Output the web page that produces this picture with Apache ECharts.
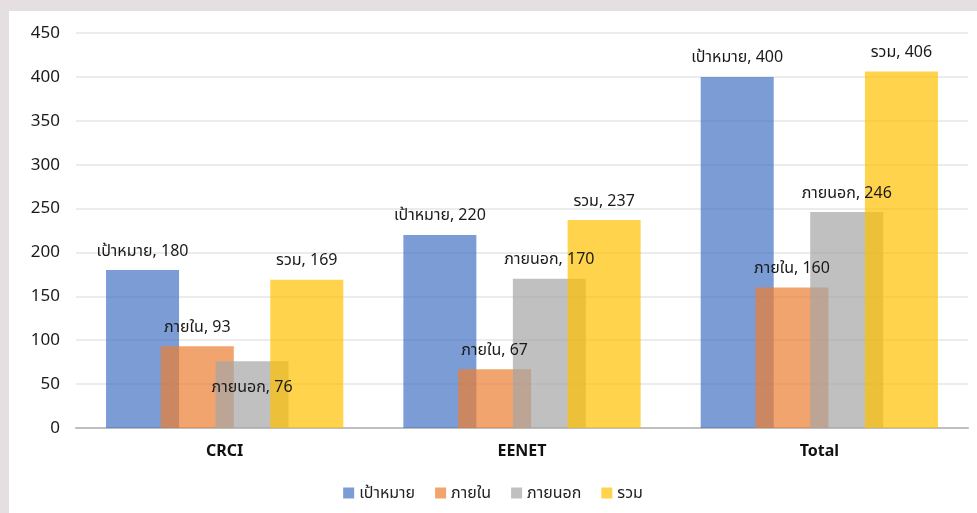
<!DOCTYPE html>
<html>
<head>
<meta charset="utf-8">
<script src="https://cdn.jsdelivr.net/npm/echarts@6/dist/echarts.min.js"></script>
<style>
  html, body { margin: 0; padding: 0; width: 977px; height: 513px; background: #e5dfe2; overflow: hidden; }
  #chart { position: absolute; left: 9px; top: 11px; width: 968px; height: 502px; background: #fff; }
</style>
</head>
<body>
<div id="chart"></div>
<script>
// data
const categories = ['CRCI', 'EENET', 'Total']
const seriesNames = ['เป้าหมาย', 'ภายใน', 'ภายนอก', 'รวม']
const target = [180, 220, 400]
const internal = [93, 67, 160]
const external = [76, 170, 246]
const total = [169, 237, 406]
const yTicks = [0, 450, 50] // min, max, step

// excel colours at 70% opacity
const colors = ['rgba(68,114,196,0.7)', 'rgba(237,125,49,0.7)', 'rgba(165,165,165,0.7)', 'rgba(255,192,0,0.7)']
const font = "'Noto Sans', 'Noto Sans Thai', sans-serif"

const myChart = echarts.init(document.getElementById('chart'))

function makeSeries(name, values, idx) {
  return {
    name: name,
    type: 'bar',
    barWidth: 73,
    barGap: '-25%',
    itemStyle: { color: colors[idx] },
    label: {
      show: true,
      position: 'top',
      distance: 11,
      color: '#1a1a1a',
      fontSize: 16,
      fontFamily: font,
      formatter: function (p) { return p.seriesName + ', ' + p.value }
    },
    data: values.map(function (v, i) {
      // CRCI ภายนอก label sits inside the bar in the original
      if (idx === 2 && i === 0) {
        return { value: v, label: { position: 'insideTop', distance: 18 } }
      }
      return v
    })
  }
}

let option = {
  animation: false,
  color: colors,
  grid: {
    left: 67,
    right: 9,
    top: 22,
    bottom: 85
  },
  legend: {
    bottom: 7,
    left: 'center',
    itemWidth: 11,
    itemHeight: 11,
    itemGap: 20,
    icon: 'rect',
    textStyle: { fontSize: 16, color: '#222', fontFamily: font },
    data: seriesNames
  },
  xAxis: {
    type: 'category',
    data: categories,
    axisLine: { lineStyle: { color: '#bfbfbf', width: 2 } },
    axisTick: { show: false },
    axisLabel: { fontSize: 16, fontWeight: 'bold', color: '#111', fontFamily: font, margin: 15 }
  },
  yAxis: {
    type: 'value',
    min: yTicks[0],
    max: yTicks[1],
    interval: yTicks[2],
    axisLine: { show: false },
    axisTick: { show: false },
    axisLabel: { fontSize: 17, color: '#1a1a1a', fontFamily: font, margin: 16 },
    splitLine: { lineStyle: { color: '#ececec', width: 2 } }
  },
  series: [
    makeSeries(seriesNames[0], target, 0),
    makeSeries(seriesNames[1], internal, 1),
    makeSeries(seriesNames[2], external, 2),
    makeSeries(seriesNames[3], total, 3)
  ]
}

myChart.setOption(option)
</script>
</body>
</html>
